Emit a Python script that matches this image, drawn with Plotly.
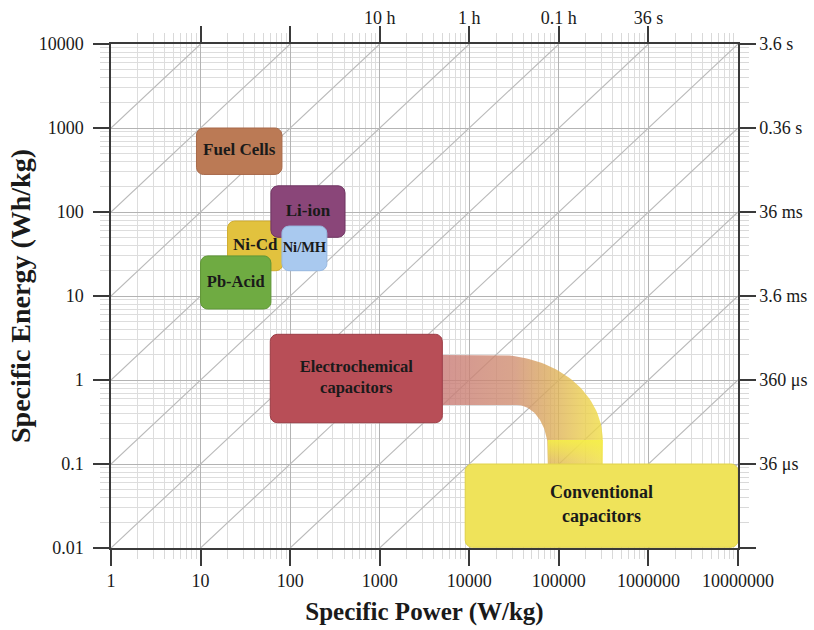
import numpy as np
import plotly.graph_objects as go

# ---------------- data ----------------
power_ticks = [1, 10, 100, 1000, 10000, 100000, 1000000, 10000000]
power_labels = ["1", "10", "100", "1000", "10000", "100000", "1000000", "10000000"]
energy_ticks = [0.01, 0.1, 1, 10, 100, 1000, 10000]
energy_labels = ["0.01", "0.1", "1", "10", "100", "1000", "10000"]

# discharge time (E/P) read along the top and right edges
top_ticks = [10, 100, 1000, 10000, 100000, 1000000]
top_labels = ["", "", "10 h", "1 h", "0.1 h", "36 s"]
right_ticks = [0.01, 0.1, 1, 10, 100, 1000, 10000]
right_labels = ["", "36 μs", "360 μs", "3.6 ms", "36 ms", "0.36 s", "3.6 s"]

# constant time lines, hours
time_constants_h = [1e3, 1e2, 1e1, 1e0, 1e-1, 1e-2, 1e-3, 1e-4, 1e-5, 1e-6, 1e-7, 1e-8]

# technology regions (W/kg, Wh/kg)
tech_names = ["Fuel Cells", "Ni-Cd", "Li-ion", "Ni/MH", "Pb-Acid",
              "Electrochemical<br>capacitors", "Conventional<br>capacitors"]
p_min = [9, 20, 61, 81, 10, 60, 9000]
p_max = [81, 83, 410, 257, 61, 5000, 1e7]
e_min = [280, 20, 50, 20, 7, 0.31, 0.0102]
e_max = [1000, 78, 205, 68, 30, 3.5, 0.1]
tech_fill = ["#bb7a55", "#e2c23e", "#8a4679", "#a9c9ef", "#6fab42", "#b84e57", "#efe35a"]
tech_edge = ["#a8694a", "#d0ad30", "#6e3562", "#97b8e0", "#5f9636", "#9c3c45", "#e0d24a"]
tech_font = [17, 17, 17, 14.5, 16.5, 16.5, 18]

# transition band from electrochemical to conventional capacitors (log10 units)
band_start_logp = 3.70
band_outer = dict(cx=4.31, cy=-0.714, rx=1.18, ry=1.012)
band_inner = dict(cx=4.53, cy=-0.833, rx=0.347, ry=0.535)
band_end_loge = -1.02
band_gradient = [[0.0, "rgba(200,122,118,0.80)"],
                 [0.45, "rgba(208,142,112,0.80)"],
                 [0.65, "rgba(218,168,92,0.80)"],
                 [0.85, "rgba(232,200,80,0.80)"],
                 [1.0, "rgba(240,222,70,0.82)"]]
band_tail_gradient = [[0.0, "rgba(246,240,70,0.0)"],
                      [1.0, "rgba(246,240,70,0.85)"]]

FONT = "Liberation Serif"
INK = "#1a1a1a"
AXIS = "#3a3a3a"

# pixel sizes of one decade (used only for corner radii)
PX_PER_DEC_X = (814 - 111 - 76) / 7
PX_PER_DEC_Y = (630 - 44 - 82) / 6

fig = go.Figure()

# diagonal lines of constant discharge time
for t in time_constants_h:
    p_lo = max(power_ticks[0], energy_ticks[0] / t)
    p_hi = min(power_ticks[-1], energy_ticks[-1] / t)
    if p_hi <= p_lo:
        continue
    fig.add_trace(go.Scatter(x=[p_lo, p_hi], y=[p_lo * t, p_hi * t], mode="lines",
                             line=dict(color="#b9b9b9", width=1.1),
                             hoverinfo="skip", showlegend=False))


def rounded_rect(lx0, lx1, ly0, ly1, r_px=7, n=8):
    rx = r_px / PX_PER_DEC_X
    ry = r_px / PX_PER_DEC_Y
    pts = []
    corners = [(lx1 - rx, ly1 - ry, 0), (lx0 + rx, ly1 - ry, 90),
               (lx0 + rx, ly0 + ry, 180), (lx1 - rx, ly0 + ry, 270)]
    for cx, cy, a0 in corners:
        for a in np.linspace(np.radians(a0), np.radians(a0 + 90), n):
            pts.append((cx + rx * np.cos(a), cy + ry * np.sin(a)))
    pts.append(pts[0])
    xs = [10 ** p[0] for p in pts]
    ys = [10 ** p[1] for p in pts]
    return xs, ys


# transition band outline: straight run, quarter bend, drop
def edge_points(arc, n_h=10, n_a=40, n_v=8):
    top_y = arc["cy"] + arc["ry"]
    end_x = arc["cx"] + arc["rx"]
    xs = list(np.linspace(band_start_logp, arc["cx"], n_h, endpoint=False))
    ys = [top_y] * n_h
    for a in np.linspace(np.pi / 2, 0, n_a, endpoint=False):
        xs.append(arc["cx"] + arc["rx"] * np.cos(a))
        ys.append(arc["cy"] + arc["ry"] * np.sin(a))
    for v in np.linspace(arc["cy"], band_end_loge, n_v):
        xs.append(end_x)
        ys.append(v)
    return np.array(xs), np.array(ys)


ox, oy = edge_points(band_outer)
ix, iy = edge_points(band_inner)
band_lx = np.concatenate([ox, ix[::-1], ox[:1]])
band_ly = np.concatenate([oy, iy[::-1], oy[:1]])
fig.add_trace(go.Scatter(x=10 ** band_lx, y=10 ** band_ly, mode="lines",
                         line=dict(width=0, color="rgba(0,0,0,0)"), fill="toself",
                         fillgradient=dict(type="horizontal", colorscale=band_gradient),
                         hoverinfo="skip", showlegend=False))

# brighter yellow toward the lower end of the drop
tail_x_in = band_inner["cx"] + band_inner["rx"]
tail_x_out = band_outer["cx"] + band_outer["rx"]
tail_top = band_outer["cy"]
tail_lx = [tail_x_in, tail_x_out, tail_x_out, tail_x_in, tail_x_in]
tail_ly = [tail_top, tail_top, band_end_loge, band_end_loge, tail_top]
fig.add_trace(go.Scatter(x=[10 ** v for v in tail_lx], y=[10 ** v for v in tail_ly],
                         mode="lines", line=dict(width=0, color="rgba(0,0,0,0)"),
                         fill="toself",
                         fillgradient=dict(type="vertical", colorscale=band_tail_gradient),
                         hoverinfo="skip", showlegend=False))

# technology boxes and their labels
for i, name in enumerate(tech_names):
    xs, ys = rounded_rect(np.log10(p_min[i]), np.log10(p_max[i]),
                          np.log10(e_min[i]), np.log10(e_max[i]))
    fig.add_trace(go.Scatter(x=xs, y=ys, mode="lines", fill="toself",
                             fillcolor=tech_fill[i],
                             line=dict(color=tech_edge[i], width=1),
                             hoverinfo="skip", showlegend=False))
for i, name in enumerate(tech_names):
    cx = 10 ** ((np.log10(p_min[i]) + np.log10(p_max[i])) / 2)
    cy = 10 ** ((np.log10(e_min[i]) + np.log10(e_max[i])) / 2)
    fig.add_trace(go.Scatter(x=[cx], y=[cy], mode="text", text=["<b>%s</b>" % name],
                             textfont=dict(family=FONT, size=tech_font[i], color=INK),
                             hoverinfo="skip", showlegend=False))

# carrier trace for the secondary (time) axes
fig.add_trace(go.Scatter(x=[power_ticks[0], power_ticks[-1]],
                         y=[energy_ticks[0], energy_ticks[-1]],
                         xaxis="x2", yaxis="y2", mode="markers",
                         marker=dict(opacity=0), hoverinfo="skip", showlegend=False))

minor_p = [m * 10 ** d for d in range(0, 7) for m in range(2, 10)]
minor_e = [m * 10.0 ** d for d in range(-2, 4) for m in range(2, 10)]

tickfont = dict(family=FONT, size=18, color=INK)
common = dict(type="log", showline=True, linecolor=AXIS, linewidth=1.5,
              ticks="outside", ticklen=16, tickwidth=1.5, tickcolor=AXIS,
              tickfont=tickfont, zeroline=False, tickmode="array", automargin=False)
minor_common = dict(tickmode="array", ticks="outside", ticklen=9,
                    tickcolor="#d9d9d9", tickwidth=1)

fig.update_layout(
    width=814, height=630,
    margin=dict(l=111, r=76, t=44, b=82, autoexpand=False),
    paper_bgcolor="white", plot_bgcolor="white",
    showlegend=False,
    xaxis=dict(**common, range=[0, 7], tickvals=power_ticks, ticktext=power_labels,
               showgrid=True, gridcolor="#b3b3b3", gridwidth=1,
               minor=dict(**minor_common, tickvals=minor_p, showgrid=True,
                          gridcolor="#dddddd", gridwidth=1),
               title=dict(text="<b>Specific Power (W/kg)</b>", standoff=12,
                          font=dict(family=FONT, size=25, color=INK))),
    yaxis=dict(**common, range=[-2, 4], tickvals=energy_ticks, ticktext=energy_labels,
               showgrid=True, gridcolor="#b3b3b3", gridwidth=1, ticklabelstandoff=6,
               minor=dict(**minor_common, tickvals=minor_e, showgrid=True,
                          gridcolor="#dddddd", gridwidth=1),
               title=dict(text="<b>Specific Energy (Wh/kg)</b>", standoff=0,
                          font=dict(family=FONT, size=28, color=INK))),
    xaxis2=dict(**common, range=[0, 7], overlaying="x", side="top",
                tickvals=top_ticks, ticktext=top_labels, showgrid=False,
                ticklabelstandoff=-5,
                minor=dict(**minor_common, tickvals=minor_p, showgrid=False)),
    yaxis2=dict(**common, range=[-2, 4], overlaying="y", side="right",
                tickvals=right_ticks, ticktext=right_labels, showgrid=False,
                minor=dict(**minor_common, tickvals=minor_e, showgrid=False)),
)

fig.write_html("out.html")
